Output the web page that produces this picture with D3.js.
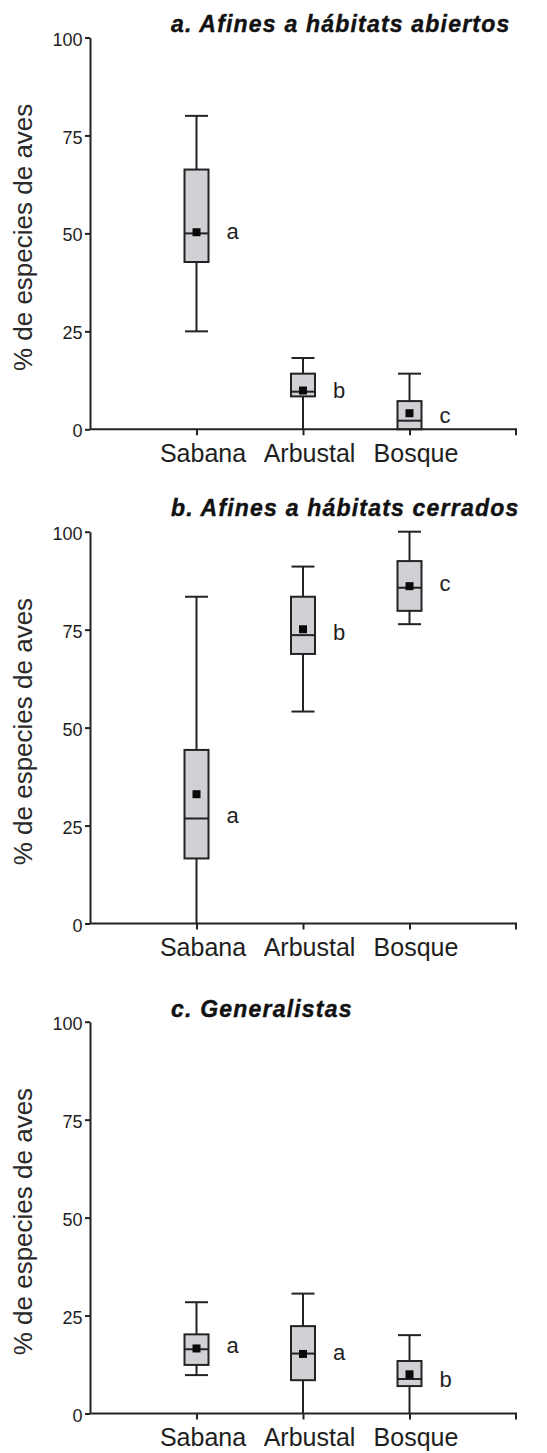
<!DOCTYPE html>
<html><head><meta charset="utf-8">
<script src="https://cdn.jsdelivr.net/npm/d3@7"></script>
<style>
body{margin:0;background:#fff;}
text{font-family:"Liberation Sans",Arial,Helvetica,sans-serif;fill:#1e1e1e;}
</style></head>
<body>
<script>
// ---- data ----
const categories = ["Sabana", "Arbustal", "Bosque"];
const yTicks = [0, 25, 50, 75, 100];
const yLabel = "% de especies de aves";
const panelTitles = ["a. Afines a hábitats abiertos", "b. Afines a hábitats cerrados", "c. Generalistas"];

// a. open-habitat species
const openMin    = [25.0, 0.0, 0.0];
const openQ1     = [42.7, 8.4, 0.0];
const openMedian = [50.0, 9.6, 2.2];
const openQ3     = [66.3, 14.2, 7.2];
const openMax    = [80.0, 18.2, 14.2];
const openMean   = [50.3, 9.9, 4.1];
const openLetters   = ["a", "b", "c"];
const openLetterPos = [50.0, 9.6, 3.1];

// b. closed-habitat species
const closedMin    = [0.0, 54.1, 76.4];
const closedQ1     = [16.6, 68.8, 79.8];
const closedMedian = [26.8, 73.6, 85.7];
const closedQ3     = [44.3, 83.4, 92.5];
const closedMax    = [83.4, 91.1, 100.0];
const closedMean   = [33.0, 75.1, 86.1];
const closedLetters   = ["a", "b", "c"];
const closedLetterPos = [27.1, 74.0, 86.4];

// c. generalists
const genMin    = [9.8, 0.0, 0.0];
const genQ1     = [12.4, 8.5, 7.0];
const genMedian = [16.4, 15.3, 8.8];
const genQ3     = [20.2, 22.3, 13.4];
const genMax    = [28.4, 30.6, 20.0];
const genMean   = [16.6, 15.2, 10.0];
const genLetters   = ["a", "a", "b"];
const genLetterPos = [17.0, 15.1, 8.3];

function build(min, q1, med, q3, max, mean, letters, lpos) {
  return categories.map((c, i) => ({cat: c, min: min[i], q1: q1[i], med: med[i], q3: q3[i], max: max[i], mean: mean[i], letter: letters[i], lpos: lpos[i]}));
}
const panels = [
  build(openMin, openQ1, openMedian, openQ3, openMax, openMean, openLetters, openLetterPos),
  build(closedMin, closedQ1, closedMedian, closedQ3, closedMax, closedMean, closedLetters, closedLetterPos),
  build(genMin, genQ1, genMedian, genQ3, genMax, genMean, genLetters, genLetterPos)
];

// ---- layout ----
const W = 547, H = 1453;
const axisX0 = 90, axisX1 = 516;
const panelTops = [37.5, 531.7, 1021.7];
const panelH = 391.8;
const titleBaselines = [31.7, 516, 1016.7];
const boxW = 24, capW = 23, markSize = 8;
const ink = "#232323";

const svg = d3.select("body").append("svg").attr("width", W).attr("height", H);

const x = d3.scalePoint().domain(categories).range([axisX0, axisX1]).padding(1);

panels.forEach((data, p) => {
  const top = panelTops[p], bottom = top + panelH;
  const y = d3.scaleLinear().domain([0, 100]).range([bottom, top]);
  const g = svg.append("g");

  // title
  g.append("text").attr("x", 171).attr("y", titleBaselines[p])
    .attr("font-size", 23).attr("font-weight", "bold").attr("font-style", "italic")
    .attr("letter-spacing", 1.2).style("fill", "#111")
    .style("stroke", "#111").style("stroke-width", 0.4)
    .text(panelTitles[p]);

  // y label
  g.append("text")
    .attr("transform", `translate(32,${(top + bottom) / 2 + 4}) rotate(-90)`)
    .attr("text-anchor", "middle").attr("font-size", 26).style("fill", "#2a2a2a")
    .text(yLabel);

  // boxes
  const b = g.selectAll("g.box").data(data).join("g").attr("class", "box");
  b.append("line").attr("x1", d => x(d.cat)).attr("x2", d => x(d.cat))
    .attr("y1", d => y(d.min)).attr("y2", d => y(d.max))
    .attr("stroke", ink).attr("stroke-width", 2);
  b.append("line").attr("x1", d => x(d.cat) - capW / 2).attr("x2", d => x(d.cat) + capW / 2)
    .attr("y1", d => y(d.max)).attr("y2", d => y(d.max))
    .attr("stroke", ink).attr("stroke-width", 2);
  b.filter(d => d.min > 0).append("line").attr("x1", d => x(d.cat) - capW / 2).attr("x2", d => x(d.cat) + capW / 2)
    .attr("y1", d => y(d.min)).attr("y2", d => y(d.min))
    .attr("stroke", ink).attr("stroke-width", 2);
  b.append("rect").attr("x", d => x(d.cat) - boxW / 2).attr("width", boxW)
    .attr("y", d => y(d.q3)).attr("height", d => y(d.q1) - y(d.q3))
    .attr("fill", "#d0d1d5").attr("stroke", ink).attr("stroke-width", 2);
  b.append("line").attr("x1", d => x(d.cat) - boxW / 2).attr("x2", d => x(d.cat) + boxW / 2)
    .attr("y1", d => y(d.med)).attr("y2", d => y(d.med))
    .attr("stroke", ink).attr("stroke-width", 2);
  b.append("rect").attr("x", d => x(d.cat) - markSize / 2).attr("y", d => y(d.mean) - markSize / 2)
    .attr("width", markSize).attr("height", markSize).attr("fill", "#0a0a0a");
  b.append("text").attr("x", d => x(d.cat) + 30).attr("y", d => y(d.lpos)).attr("dy", "0.27em")
    .attr("font-size", 22).style("fill", "#1e1e1e").text(d => d.letter);

  // axes
  const ya = g.append("g").attr("transform", `translate(${axisX0},0)`)
    .call(d3.axisLeft(y).tickValues(yTicks).tickSize(5).tickSizeOuter(0).tickPadding(2.5));
  ya.selectAll("text").attr("font-size", 18).style("fill", "#1e1e1e").attr("dy", "0.42em");
  const xa = g.append("g").attr("transform", `translate(0,${bottom})`)
    .call(d3.axisBottom(x).tickSize(6).tickSizeOuter(6).tickPadding(9));
  xa.select(".domain").attr("d", `M${axisX0},0H${axisX1}V6`);
  xa.selectAll("text").attr("font-size", 25).attr("dx", 6).style("fill", "#1e1e1e");
  [ya, xa].forEach(a => {
    a.select(".domain").attr("stroke", ink).attr("stroke-width", 2);
    a.selectAll(".tick line").attr("stroke", ink).attr("stroke-width", 2);
    a.attr("font-family", null);
  });
});
</script>
</body></html>
